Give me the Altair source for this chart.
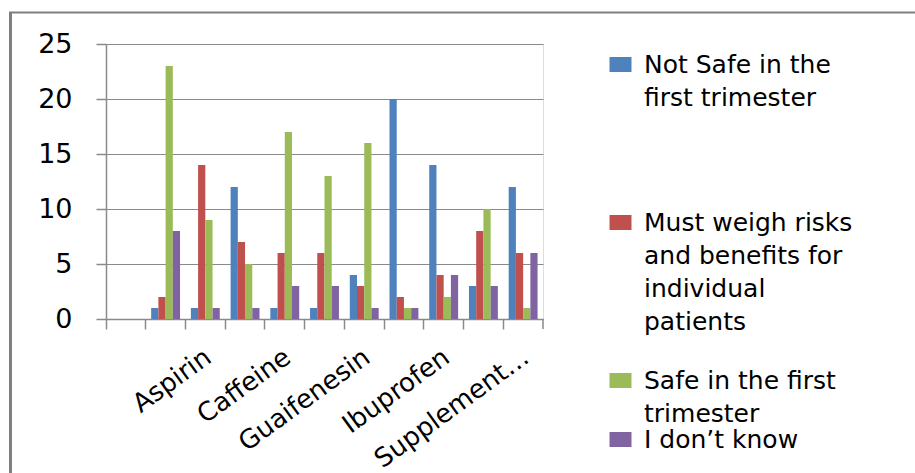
import altair as alt
import pandas as pd

# ---------------- data ----------------
categories = ["", "Acetaminophen", "Aspirin", "Bismuth subsalicylate", "Caffeine",
              "Dextromethorphan", "Guaifenesin", "Herbal remedies", "Ibuprofen",
              "Pseudoephedrine", "Supplement…"]
shown_labels = ["Aspirin", "Caffeine", "Guaifenesin", "Ibuprofen", "Supplement…"]

series = ["Not Safe in the first trimester",
          "Must weigh risks and benefits for individual patients",
          "Safe in the first trimester",
          "I don’t know"]
series_lines = [["Not Safe in the", "first trimester"],
                ["Must weigh risks", "and benefits for", "individual", "patients"],
                ["Safe in the first", "trimester"],
                ["I don’t know"]]
colors = ["#4F81BD", "#C0504D", "#9BBB59", "#8064A2"]

not_safe   = [None, 1, 1, 12, 1, 1, 4, 20, 14, 3, 12]
must_weigh = [None, 2, 14, 7, 6, 6, 3, 2, 4, 8, 6]
safe       = [None, 23, 9, 5, 17, 13, 16, 1, 2, 10, 1]
dont_know  = [None, 8, 1, 1, 3, 3, 1, 1, 4, 3, 6]

rows = []
for s, vals in zip(series, [not_safe, must_weigh, safe, dont_know]):
    for c, v in zip(categories, vals):
        if v is not None:
            rows.append({"category": c, "series": s, "value": v})
df = pd.DataFrame(rows)

# ---------------- styling helpers ----------------
FONT = "DejaVu Sans"
GRAY = "#8a8a8a"
LEGEND_SLOTS = [5, 5, 2, 1]   # lines reserved for each legend entry (Excel-like spacing)


def js_str(s):
    return "'" + s.replace("\\", "\\\\").replace("'", "\\'") + "'"


parts = []
for s, lines, slots in zip(series, series_lines, LEGEND_SLOTS):
    padded = lines + [" "] * max(0, slots - len(lines))
    parts.append(f"datum.label == {js_str(s)} ? [{', '.join(js_str(l) for l in padded)}]")
legend_expr = " : ".join(parts) + " : datum.label"

shown_expr = "[" + ", ".join(js_str(l) for l in shown_labels) + "]"
x_label_expr = f"indexof({shown_expr}, datum.label) >= 0 ? datum.label : ''"

x_scale = alt.Scale(domain=categories, paddingInner=0, paddingOuter=0)
x_axis = alt.Axis(
    title=None, bandPosition=0, tickSize=10, tickColor=GRAY, tickWidth=1.5,
    domainColor=GRAY, domainWidth=1.5, labelAngle=-36, labelAlign="right",
    labelBaseline="middle", labelOffset=3, labelPadding=25, labelFont=FONT,
    labelFontSize=26, labelColor="#000000", labelExpr=x_label_expr,
    labelOverlap=False, labelLimit=400, labelBound=False,
)

bars = alt.Chart(df).mark_bar().encode(
    x=alt.X("category:N", scale=x_scale, sort=categories, axis=x_axis),
    xOffset=alt.XOffset("series:N", sort=series,
                        scale=alt.Scale(domain=series, paddingInner=0, paddingOuter=0.75)),
    y=alt.Y("value:Q", scale=alt.Scale(domain=[0, 25]),
            axis=alt.Axis(title=None, values=[0, 5, 10, 15, 20, 25], grid=True,
                          gridColor=GRAY, gridWidth=1.2, tickSize=10, tickColor=GRAY,
                          tickWidth=1.5, domainColor=GRAY, domainWidth=1.5,
                          labelPadding=24, labelFont=FONT, labelFontSize=27,
                          labelColor="#000000")),
    color=alt.Color("series:N", sort=series,
                    scale=alt.Scale(domain=series, range=colors),
                    legend=alt.Legend(
                        title=None, orient="none", legendX=502, legendY=8,
                        padding=0, rowPadding=0, labelFont=FONT, labelFontSize=25,
                        labelColor="#000000", labelBaseline="middle", labelOffset=11,
                        labelLimit=400, labelExpr=legend_expr,
                        symbolType="M-1,-0.68H1V0.68H-1Z", symbolSize=484,
                        symbolStrokeWidth=0, symbolOpacity=1)),
)

# closing tick at the right end of the category axis
end_tick = alt.Chart(pd.DataFrame({"category": [categories[-1]]})).mark_rule(
    color=GRAY, strokeWidth=1.5
).encode(
    x=alt.X("category:N", scale=x_scale, sort=categories, axis=x_axis, bandPosition=1),
    y=alt.value(275), y2=alt.value(285),
)

# outer chart border (left and top edges visible in the reference)
frame = alt.Data(values=[{}])
left_border = alt.Chart(frame).mark_rule(color="#7f7f7f", strokeWidth=3).encode(
    x=alt.value(-95.5), y=alt.value(-32), y2=alt.value(429))
top_border = alt.Chart(frame).mark_rule(color="#7f7f7f", strokeWidth=2).encode(
    x=alt.value(-97), x2=alt.value(809), y=alt.value(-31.5))

chart = alt.layer(bars, end_tick, left_border, top_border).properties(
    width=437, height=275,
    padding={"left": 106, "top": 44, "right": 372, "bottom": 154},
    autosize=alt.AutoSizeParams(type="none"),
    background="white",
).configure_view(stroke=None).configure(style={"guide-label": {"lineHeight": 33}})

chart.save("out.html", embed_options={"renderer": "svg", "actions": False})
